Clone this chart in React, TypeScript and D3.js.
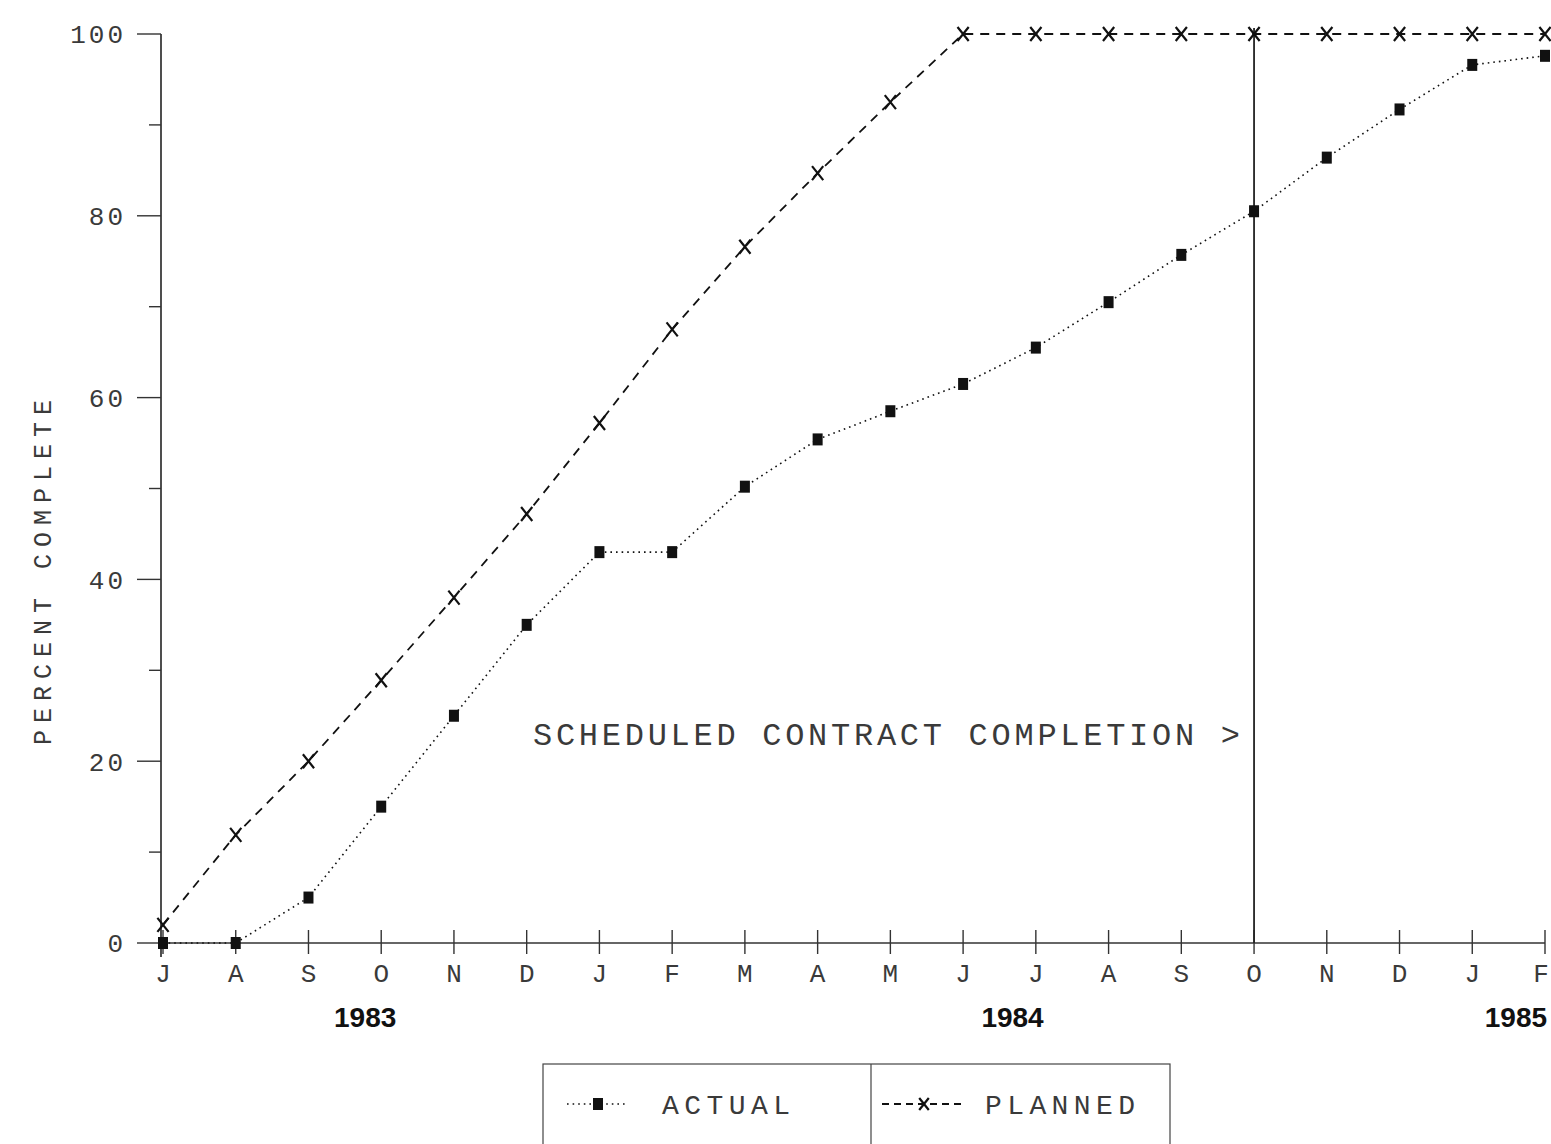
import * as d3 from 'd3';

// month letters along the bottom, Jul 1983 .. Feb 1985
const months = ['J', 'A', 'S', 'O', 'N', 'D', 'J', 'F', 'M', 'A', 'M', 'J', 'J', 'A', 'S', 'O', 'N', 'D', 'J', 'F'];
const actual = [0, 0, 5, 15, 25, 35, 43, 43, 50.2, 55.4, 58.5, 61.5, 65.5, 70.5, 75.7, 80.5, 86.4, 91.7, 96.6, 97.6];
const planned = [2, 11.9, 20, 28.9, 38, 47.2, 57.2, 67.5, 76.6, 84.7, 92.5, 100, 100, 100, 100, 100, 100, 100, 100, 100];
const yTicks = [0, 20, 40, 60, 80, 100];
const yMinor = [10, 30, 50, 70, 90];
const years = ['1983', '1984', '1985'];
const yearAt = [2.78, 11.68, 18.6]; // month index under which the year sits
const completionMonth = 15; // October 1984

const W = 1551;
const H = 1144;
const mono = '"Liberation Mono", "DejaVu Sans Mono", monospace';
const ink = '#3a3a3a';

function XMark({ x, y, s = 7 }: { x: number; y: number; s?: number }) {
  return (
    <path
      d={`M${x - s * 0.8},${y - s} L${x + s * 0.8},${y + s} M${x + s * 0.8},${y - s} L${x - s * 0.8},${y + s}`}
      stroke="#111"
      strokeWidth={2.2}
      fill="none"
    />
  );
}

function Square({ x, y }: { x: number; y: number }) {
  return <rect x={x - 5} y={y - 6} width={10} height={12} fill="#111" />;
}

export default function App() {
  const x = d3.scaleLinear().domain([0, months.length - 1]).range([163, 1545]);
  const y = d3.scaleLinear().domain([0, 100]).range([943, 34]);

  const line = d3
    .line<number>()
    .x((_, i) => x(i))
    .y((d) => y(d));

  const y0 = y(0);
  const axisX = x(0) - 2;

  return (
    <div style={{ position: 'absolute', left: 0, top: 0 }}>
      <svg width={W} height={H} viewBox={`0 0 ${W} ${H}`} style={{ display: 'block', background: '#fff' }}>
        {/* y axis */}
        <line x1={axisX} x2={axisX} y1={y(100)} y2={y0 + 14} stroke="#222" strokeWidth={1.6} />
        {yTicks.map((t) => (
          <g key={t}>
            <line x1={axisX - 24} x2={axisX} y1={y(t)} y2={y(t)} stroke="#333" strokeWidth={1.4} />
            <text
              x={126}
              y={y(t)}
              dy="0.36em"
              textAnchor="end"
              fontFamily={mono}
              fontSize={26}
              letterSpacing={3}
              fill={ink}
            >
              {t}
            </text>
          </g>
        ))}
        {yMinor.map((t) => (
          <line key={t} x1={axisX - 12} x2={axisX} y1={y(t)} y2={y(t)} stroke="#333" strokeWidth={1.4} />
        ))}
        <text
          transform={`translate(42,${(400 + 745) / 2}) rotate(-90)`}
          textAnchor="middle"
          fontFamily={mono}
          fontSize={25}
          textLength={345}
          lengthAdjust="spacing"
          fill={ink}
          dy="0.35em"
        >
          PERCENT COMPLETE
        </text>

        {/* x axis */}
        <line x1={axisX} x2={x(months.length - 1)} y1={y0} y2={y0} stroke="#333" strokeWidth={1.4} />
        {months.map((m, i) => (
          <g key={i}>
            <line x1={x(i)} x2={x(i)} y1={y0 - 13} y2={y0 + 11} stroke="#333" strokeWidth={1.4} />
            <text
              x={Math.min(x(i), W - 10)}
              y={973}
              dy="0.36em"
              textAnchor="middle"
              fontFamily={mono}
              fontSize={26}
              fill={ink}
            >
              {m}
            </text>
          </g>
        ))}
        {years.map((yr, i) => (
          <text
            key={yr}
            x={x(yearAt[i])}
            y={1017}
            dy="0.36em"
            textAnchor="middle"
            fontFamily='"Liberation Sans", Arial, sans-serif'
            fontWeight="bold"
            fontSize={28}
            fill="#111"
          >
            {yr}
          </text>
        ))}

        {/* scheduled completion */}
        <line
          x1={x(completionMonth)}
          x2={x(completionMonth)}
          y1={y(100) - 6}
          y2={y0}
          stroke="#222"
          strokeWidth={1.8}
        />
        <text
          x={533}
          y={733}
          dy="0.36em"
          fontFamily={mono}
          fontSize={32}
          textLength={707}
          lengthAdjust="spacing"
          fill={ink}
        >
          SCHEDULED CONTRACT COMPLETION &gt;
        </text>

        {/* planned */}
        <path d={line(planned) || ''} fill="none" stroke="#111" strokeWidth={1.8} strokeDasharray="9,7" />
        {planned.map((v, i) => (
          <XMark key={i} x={x(i)} y={y(v)} />
        ))}

        {/* actual */}
        <path d={line(actual) || ''} fill="none" stroke="#111" strokeWidth={1.6} strokeDasharray="1.6,4" />
        {actual.map((v, i) => (
          <Square key={i} x={x(i)} y={y(v)} />
        ))}

        {/* legend */}
        <rect x={543} y={1064} width={627} height={120} fill="none" stroke="#444" strokeWidth={1.2} />
        <line x1={871} x2={871} y1={1064} y2={H} stroke="#444" strokeWidth={1.2} />
        <line x1={567} x2={628} y1={1104} y2={1104} stroke="#111" strokeWidth={1.6} strokeDasharray="1.6,4" />
        <Square x={598} y={1104} />
        <text x={662} y={1104} dy="0.36em" fontFamily={mono} fontSize={28} textLength={128} lengthAdjust="spacing" fill={ink}>
          ACTUAL
        </text>
        <line x1={882} x2={962} y1={1104} y2={1104} stroke="#111" strokeWidth={1.8} strokeDasharray="7,5" />
        <XMark x={924} y={1104} s={6} />
        <text x={985} y={1104} dy="0.36em" fontFamily={mono} fontSize={28} textLength={150} lengthAdjust="spacing" fill={ink}>
          PLANNED
        </text>
      </svg>
    </div>
  );
}
